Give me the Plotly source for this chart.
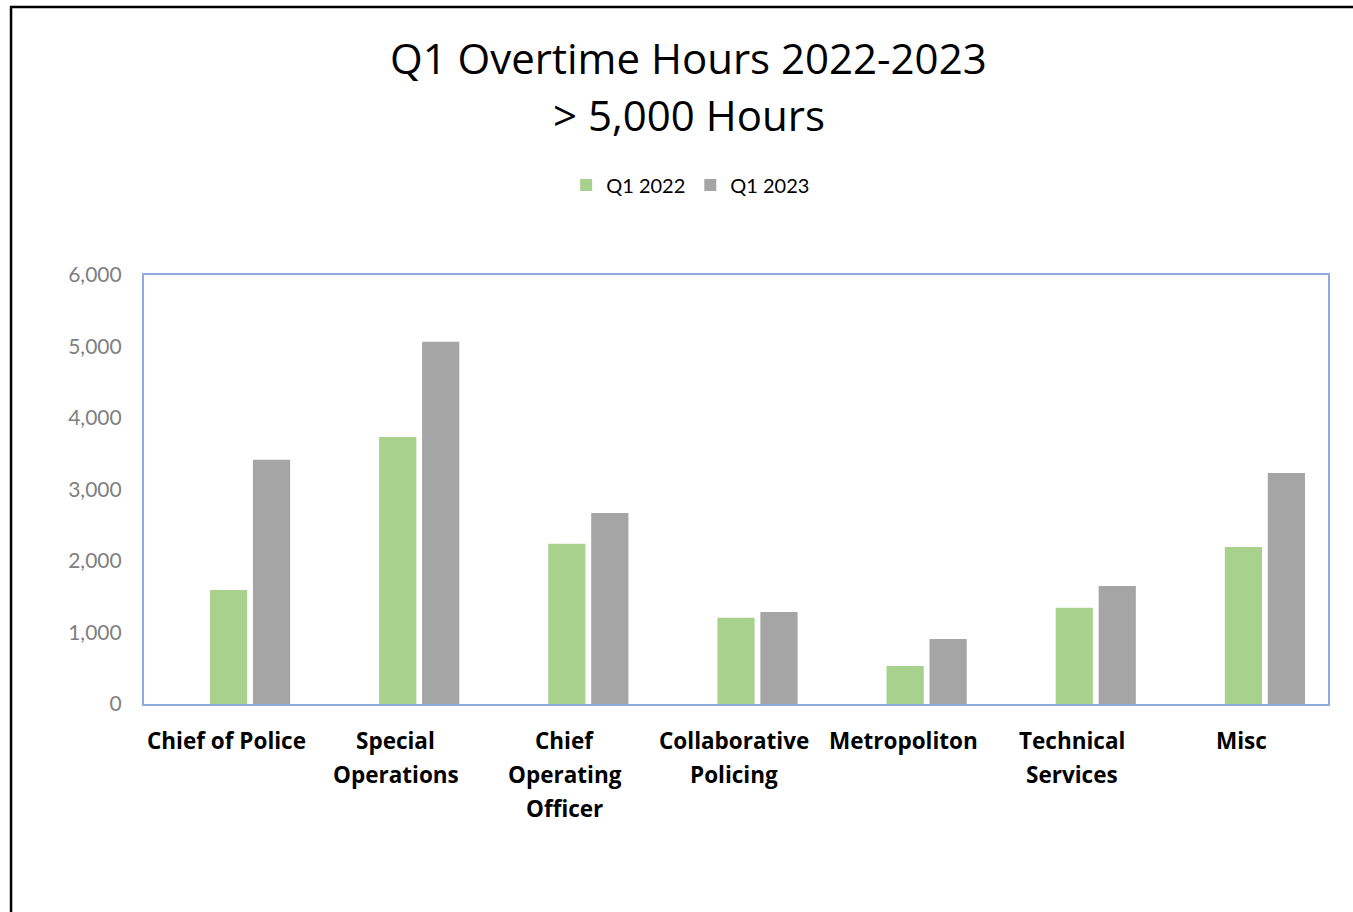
import plotly.graph_objects as go

categories = ["Chief of Police", "Special Operations", "Chief Operating Officer",
              "Collaborative Policing", "Metropoliton", "Technical Services", "Misc"]
label_lines = [["Chief of Police"], ["Special", "Operations"], ["Chief", "Operating", "Officer"],
               ["Collaborative", "Policing"], ["Metropoliton"], ["Technical", "Services"], ["Misc"]]
q1_2022 = [1595, 3735, 2240, 1205, 530, 1345, 2195]
q1_2023 = [3415, 5065, 2670, 1285, 910, 1650, 3230]
y_ticks = [0, 1000, 2000, 3000, 4000, 5000, 6000]

FONT = "Lato"
FONT2 = "Open Sans"
GREEN = "#A9D18E"
GRAY = "#A5A5A5"
BLUE = "#8FAADC"

fig = go.Figure()
fig.add_trace(go.Bar(x=categories, y=q1_2022, name="Q1 2022", marker_color=GREEN,
                     marker_line_width=0, width=0.22, offset=-0.11))
fig.add_trace(go.Bar(x=categories, y=q1_2023, name="Q1 2023", marker_color=GRAY,
                     marker_line_width=0, width=0.22, offset=0.144))

annotations = []
for cat, lines in zip(categories, label_lines):
    for i, ln in enumerate(lines):
        annotations.append(dict(x=cat, xref="x", y=0, yref="paper", yanchor="middle",
                                yshift=-36 - 34 * i, xshift=-2, text="<b>%s</b>" % ln,
                                showarrow=False,
                                font=dict(family=FONT2, size=22.5, color="#000000")))
annotations.append(dict(x=0.4603, xref="paper", y=1.506, yref="paper", yanchor="middle",
                        text="Q1 Overtime Hours 2022-2023", showarrow=False,
                        font=dict(family=FONT2, size=42, color="#000000")))
annotations.append(dict(x=0.4603, xref="paper", y=1.373, yref="paper", yanchor="middle",
                        text="> 5,000 Hours", showarrow=False,
                        font=dict(family=FONT2, size=42, color="#000000")))

fig.update_layout(
    width=1353, height=912,
    margin=dict(l=144, r=25, t=275, b=208),
    paper_bgcolor="white", plot_bgcolor="white",
    barmode="group",
    showlegend=True,
    legend=dict(orientation="h", x=0.4617, xanchor="center", y=1.21, yanchor="middle",
                font=dict(family=FONT, size=20, color="#000000"), traceorder="normal"),
    annotations=annotations,
    shapes=[dict(type="rect", xref="paper", yref="paper", x0=-0.1123, x1=1.2, y0=-0.7, y1=1.625,
                 line=dict(color="#000000", width=2.5), layer="below")],
    font=dict(family=FONT),
)
fig.update_xaxes(showticklabels=False, showgrid=False, showline=True, mirror=True,
                 linecolor=BLUE, linewidth=2.2, layer="below traces", ticks="")
fig.update_yaxes(range=[0, 6000], tickvals=y_ticks, tickformat=",", showgrid=False,
                 showline=True, mirror=True, linecolor=BLUE, linewidth=2.2, layer="below traces",
                 ticks="", ticklabelstandoff=16, zeroline=False,
                 tickfont=dict(family=FONT, size=21, color="#7F7F7F"))

fig.write_html("out.html")
